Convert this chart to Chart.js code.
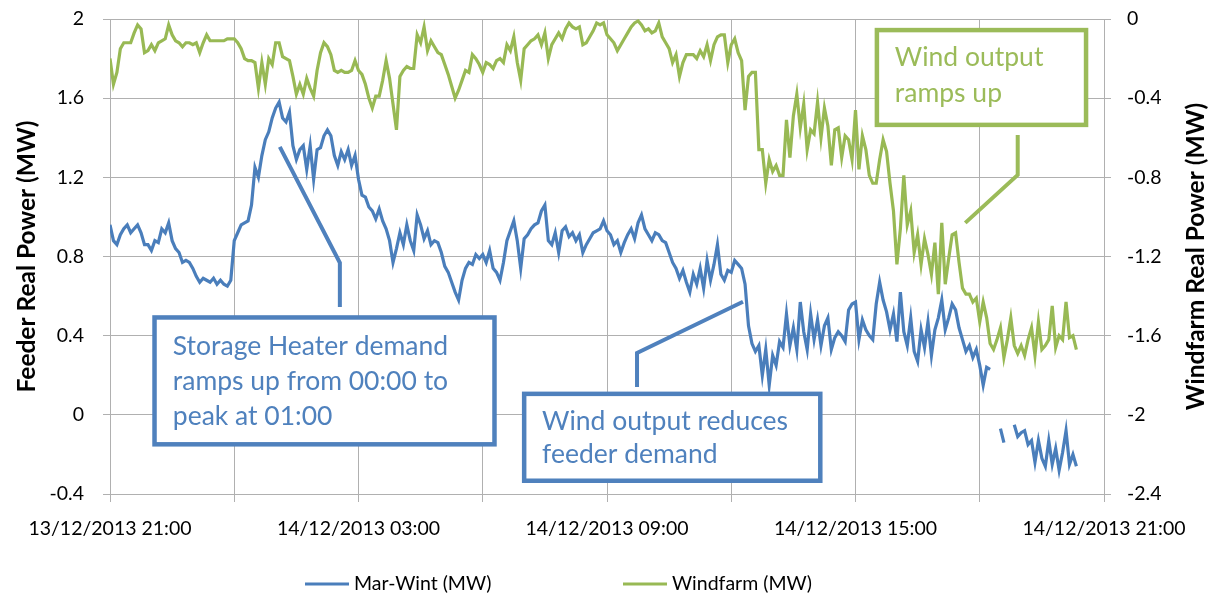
<!DOCTYPE html>
<html>
<head>
<meta charset="utf-8">
<script src="https://cdn.jsdelivr.net/npm/chart.js@4.4.1/dist/chart.umd.min.js"></script>
<style>
html, body { margin: 0; padding: 0; background: #fff; }
#wrap { width: 1215px; height: 599px; position: relative; }
</style>
</head>
<body>
<div id="wrap"><canvas id="myChart"></canvas></div>
<script>
'use strict'

// readings every 5 minutes, starting 13/12/2013 21:00
var STEP_MIN = 5;

var marWint = [
    0.96,0.88,0.86,0.91,0.94,0.96,0.92,0.94,0.96,0.92,0.86,0.86,0.83,0.88,0.87,0.94,0.92,0.97,
    0.88,0.84,0.82,0.77,0.78,0.77,0.74,0.70,0.67,0.69,0.68,0.67,0.69,0.66,0.68,0.66,0.65,0.68,
    0.88,0.92,0.96,0.97,0.98,1.06,1.25,1.20,1.31,1.39,1.43,1.50,1.55,1.58,1.50,1.48,1.53,1.36,
    1.29,1.34,1.36,1.24,1.36,1.19,1.34,1.35,1.41,1.44,1.41,1.31,1.26,1.33,1.29,1.34,1.26,1.31,
    1.19,1.11,1.10,1.05,1.03,0.99,1.04,0.98,0.94,0.88,0.77,0.84,0.92,0.86,0.96,0.88,0.83,1.01,
    0.96,0.89,0.93,0.86,0.88,0.87,0.82,0.75,0.72,0.67,0.62,0.58,0.68,0.74,0.77,0.76,0.81,0.79,
    0.81,0.77,0.83,0.74,0.72,0.68,0.77,0.88,0.93,0.98,0.88,0.74,0.89,0.91,0.94,0.96,0.97,1.03,
    1.06,0.88,0.86,0.92,0.82,0.93,0.95,0.90,0.92,0.88,0.91,0.82,0.86,0.89,0.92,0.93,0.94,0.98,
    0.93,0.91,0.86,0.88,0.82,0.87,0.91,0.94,0.89,0.97,1.01,0.94,0.91,0.88,0.92,0.91,0.88,0.87,
    0.82,0.77,0.74,0.69,0.73,0.67,0.62,0.71,0.66,0.74,0.64,0.78,0.68,0.76,0.86,0.71,0.68,0.73,
    0.72,0.78,0.76,0.74,0.66,0.45,0.36,0.32,0.35,0.20,0.33,0.15,0.30,0.25,0.37,0.34,0.51,0.35,
    0.44,0.33,0.57,0.42,0.33,0.51,0.38,0.48,0.35,0.45,0.49,0.33,0.39,0.42,0.40,0.37,0.53,0.56,
    0.57,0.38,0.48,0.43,0.40,0.38,0.56,0.67,0.58,0.52,0.43,0.51,0.37,0.62,0.42,0.35,0.49,0.32,
    0.27,0.43,0.34,0.47,0.30,0.43,0.49,0.58,0.43,0.49,0.56,0.53,0.44,0.38,0.32,0.35,0.29,0.33,
    0.25,0.15,0.24,0.23,null,null,-0.07,-0.14,null,null,-0.05,-0.11,-0.09,-0.08,-0.15,-0.13,
    -0.24,-0.13,-0.22,-0.26,-0.13,-0.25,-0.17,-0.28,-0.19,-0.08,-0.25,-0.20,-0.26
];

var windfarm = [
    -0.20,-0.33,-0.27,-0.15,-0.12,-0.12,-0.12,-0.07,-0.03,-0.05,-0.17,-0.16,-0.13,-0.16,-0.12,-0.11,-0.10,-0.03,
    -0.08,-0.11,-0.12,-0.14,-0.12,-0.12,-0.13,-0.12,-0.17,-0.12,-0.08,-0.11,-0.11,-0.11,-0.11,-0.11,-0.10,-0.10,
    -0.10,-0.12,-0.15,-0.20,-0.21,-0.21,-0.22,-0.35,-0.22,-0.33,-0.20,-0.23,-0.12,-0.12,-0.19,-0.20,-0.21,-0.29,
    -0.38,-0.33,-0.38,-0.30,-0.35,-0.39,-0.26,-0.17,-0.12,-0.14,-0.18,-0.26,-0.27,-0.26,-0.27,-0.27,-0.26,-0.21,
    -0.26,-0.28,-0.33,-0.40,-0.45,-0.39,-0.39,-0.31,-0.21,-0.30,-0.43,-0.56,-0.29,-0.26,-0.24,-0.25,-0.25,-0.08,
    -0.12,-0.04,-0.16,-0.11,-0.14,-0.17,-0.18,-0.23,-0.28,-0.34,-0.40,-0.36,-0.31,-0.26,-0.27,-0.18,-0.20,-0.23,
    -0.27,-0.22,-0.23,-0.25,-0.21,-0.20,-0.22,-0.13,-0.16,-0.09,-0.22,-0.31,-0.15,-0.13,-0.11,-0.10,-0.08,-0.13,
    -0.07,-0.20,-0.13,-0.10,-0.07,-0.10,-0.05,-0.02,-0.04,-0.05,-0.04,-0.13,-0.12,-0.09,-0.06,-0.02,-0.03,-0.02,
    -0.08,-0.10,-0.12,-0.16,-0.13,-0.10,-0.07,-0.04,-0.02,-0.01,-0.03,-0.06,-0.05,-0.07,-0.06,-0.02,-0.09,-0.12,
    -0.15,-0.22,-0.18,-0.29,-0.22,-0.18,-0.18,-0.18,-0.20,-0.16,-0.19,-0.13,-0.21,-0.13,-0.09,-0.08,-0.08,-0.22,
    -0.13,-0.10,-0.17,-0.21,-0.46,-0.29,-0.27,-0.27,-0.66,-0.66,-0.83,-0.71,-0.77,-0.74,-0.79,-0.79,-0.51,-0.70,
    -0.49,-0.38,-0.55,-0.43,-0.66,-0.56,-0.58,-0.42,-0.60,-0.45,-0.54,-0.74,-0.56,-0.55,-0.70,-0.59,-0.61,-0.71,
    -0.46,-0.76,-0.59,-0.66,-0.79,-0.83,-0.83,-0.71,-0.61,-0.67,-0.83,-0.97,-1.24,-1.06,-0.79,-1.04,-0.97,-1.18,
    -1.09,-1.24,-1.11,-1.19,-1.29,-1.13,-1.39,-1.03,-1.34,-1.21,-1.09,-1.08,-1.23,-1.36,-1.39,-1.39,-1.43,-1.41,
    -1.53,-1.43,-1.51,-1.64,-1.67,-1.62,-1.56,-1.71,-1.62,-1.51,-1.65,-1.69,-1.65,-1.70,-1.62,-1.56,-1.70,-1.53,
    -1.67,-1.65,-1.62,-1.45,-1.66,-1.60,-1.62,-1.43,-1.61,-1.60,-1.67
];

var xTickLabels = ['13/12/2013 21:00', '', '14/12/2013 03:00', '', '14/12/2013 09:00', '',
    '14/12/2013 15:00', '', '14/12/2013 21:00'];

var seriesNames = ['Mar-Wint (MW)', 'Windfarm (MW)'];
var seriesColors = ['#4A7EBB', '#98B954'];

// callout boxes, placed in minutes after 21:00 and feeder MW
var notes = [
    { color: '#4F81BD', box: [64.5, 557, 0.492, -0.149], textX: 91,
      lines: ['Storage Heater demand', 'ramps up from 00:00 to', 'peak at 01:00'],
      lineY: [0.343, 0.167, -0.010],
      leader: [[246, 1.354], [333, 0.768], [333, 0.545]] },
    { color: '#4F81BD', box: [600, 1029, 0.106, -0.333], textX: 626,
      lines: ['Wind output reduces', 'feeder demand'],
      lineY: [-0.035, -0.202],
      leader: [[763.5, 0.141], [763.5, 0.313], [917, 0.571]] },
    { color: '#9BBB59', box: [1111, 1414, 1.944, 1.465], textX: 1137,
      lines: ['Wind output', 'ramps up'],
      lineY: [1.808, 1.626],
      leader: [[1315, 1.414], [1315, 1.212], [1239, 0.970]] }
];

var FONT = "Lato, 'Open Sans', sans-serif";
var gridColor = '#B0B0B0';

var times = marWint.map(function (v, i) { return i * STEP_MIN; });

var notesPlugin = {
    id: 'notes',
    afterDatasetsDraw: function (chart) {
        var ctx = chart.ctx;
        var sx = chart.scales.x, sy = chart.scales.y;
        ctx.save();
        notes.forEach(function (n) {
            ctx.strokeStyle = n.color;
            ctx.lineWidth = 4;
            ctx.lineJoin = 'miter';
            ctx.beginPath();
            n.leader.forEach(function (p, i) {
                var px = sx.getPixelForValue(p[0]), py = sy.getPixelForValue(p[1]);
                if (i === 0) ctx.moveTo(px, py); else ctx.lineTo(px, py);
            });
            ctx.stroke();

            var x0 = sx.getPixelForValue(n.box[0]), x1 = sx.getPixelForValue(n.box[1]);
            var y0 = sy.getPixelForValue(n.box[2]), y1 = sy.getPixelForValue(n.box[3]);
            ctx.fillStyle = '#fff';
            ctx.fillRect(x0, y0, x1 - x0, y1 - y0);
            ctx.lineWidth = 4.5;
            ctx.strokeRect(x0, y0, x1 - x0, y1 - y0);

            ctx.fillStyle = n.color;
            ctx.font = '26.5px ' + FONT;
            ctx.textAlign = 'left';
            ctx.textBaseline = 'middle';
            n.lines.forEach(function (t, i) {
                ctx.fillText(t, sx.getPixelForValue(n.textX), sy.getPixelForValue(n.lineY[i]));
            });
        });
        ctx.restore();
    },
    afterDraw: function (chart) {
        var ctx = chart.ctx;
        var area = chart.chartArea;
        ctx.save();
        // right axis title, reading bottom to top
        ctx.translate(area.right + 92, (area.top + area.bottom) / 2);
        ctx.rotate(-Math.PI / 2);
        ctx.font = 'bold 24.5px ' + FONT;
        ctx.fillStyle = '#000';
        ctx.textAlign = 'center';
        ctx.textBaseline = 'middle';
        ctx.fillText('Windfarm Real Power (MW)', 0, 0);
        ctx.restore();

        // legend
        ctx.save();
        var ly = area.bottom + 90;
        var starts = [305, 623];
        ctx.font = '19.5px ' + FONT;
        ctx.textBaseline = 'middle';
        ctx.textAlign = 'left';
        seriesNames.forEach(function (name, i) {
            ctx.strokeStyle = seriesColors[i];
            ctx.lineWidth = 3;
            ctx.beginPath();
            ctx.moveTo(starts[i], ly);
            ctx.lineTo(starts[i] + 44, ly);
            ctx.stroke();
            ctx.fillStyle = '#000';
            ctx.fillText(name, starts[i] + 49, ly);
        });
        ctx.restore();
    }
};

// keep the tick padding from pushing the plot top down
function fixYAxis(width) {
    return function (scale) {
        scale.width = width;
        scale.paddingTop = 12;
        scale.paddingBottom = 12;
    };
}

Chart.defaults.font.family = FONT;
Chart.defaults.color = '#000';

var ctx = document.getElementById('myChart').getContext('2d');

var myChart = new Chart(ctx, {
    type: 'line',
    data: {
        labels: times,
        datasets: [
            {
                label: seriesNames[0],
                data: marWint,
                yAxisID: 'y',
                borderColor: seriesColors[0],
                backgroundColor: seriesColors[0],
                borderWidth: 3.2,
                pointRadius: 0,
                tension: 0,
                order: 1
            },
            {
                label: seriesNames[1],
                data: windfarm,
                yAxisID: 'y1',
                borderColor: seriesColors[1],
                backgroundColor: seriesColors[1],
                borderWidth: 3.2,
                pointRadius: 0,
                tension: 0,
                order: 0
            }
        ]
    },
    options: {
        responsive: true,
        maintainAspectRatio: false,
        animation: false,
        layout: { padding: { left: 0, right: 0, top: 19, bottom: 60 } },
        plugins: {
            legend: { display: false },
            tooltip: { enabled: false }
        },
        scales: {
            x: {
                type: 'linear',
                min: 0,
                max: 1440,
                grid: { color: gridColor, tickLength: 8 },
                border: { color: gridColor },
                ticks: {
                    stepSize: 180,
                    autoSkip: false,
                    maxRotation: 0,
                    padding: 15,
                    font: { size: 19.5 },
                    callback: function (value) {
                        return xTickLabels[Math.round(value / 180)];
                    }
                },
                afterFit: function (scale) { scale.height = 45; }
            },
            y: {
                position: 'left',
                min: -0.4,
                max: 2,
                grid: { color: gridColor, tickLength: 7 },
                border: { color: gridColor },
                ticks: {
                    stepSize: 0.4,
                    padding: 19,
                    font: { size: 19.5 },
                    callback: function (value) { return String(Math.round(value * 10) / 10); }
                },
                title: {
                    display: true,
                    text: 'Feeder Real Power (MW)',
                    font: { size: 24.5, weight: 'bold' },
                    padding: { top: 12, bottom: 0 }
                },
                afterFit: fixYAxis(110)
            },
            y1: {
                position: 'right',
                min: -2.4,
                max: 0,
                grid: { color: gridColor, tickLength: 7, drawOnChartArea: false },
                border: { color: gridColor },
                ticks: {
                    stepSize: 0.4,
                    padding: 16,
                    font: { size: 19.5 },
                    callback: function (value) { return String(Math.round(value * 10) / 10); }
                },
                afterFit: fixYAxis(111)
            }
        }
    },
    plugins: [notesPlugin]
});
</script>
</body>
</html>
